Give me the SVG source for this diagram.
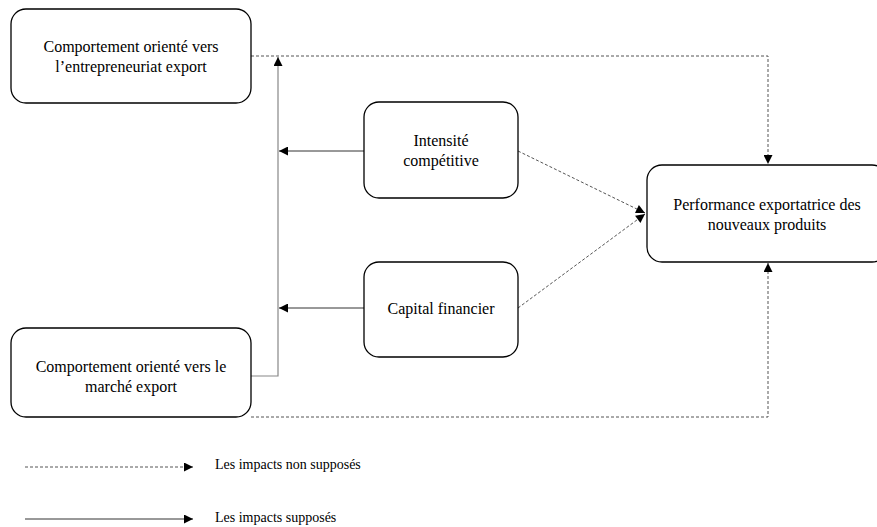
<svg xmlns="http://www.w3.org/2000/svg" width="877" height="527" viewBox="0 0 877 527">
<style>
.box{fill:#fff;stroke:#000;stroke-width:1.3}
.t{font-family:"Liberation Serif","Times New Roman",serif;font-size:16px;fill:#000;text-anchor:middle}
.lt{font-family:"Liberation Serif","Times New Roman",serif;font-size:14px;fill:#000}
.dot{fill:none;stroke:#555;stroke-width:1;stroke-dasharray:3 2}
.sol{fill:none;stroke:#333;stroke-width:1}
.gray{fill:none;stroke:#888;stroke-width:1.2}
</style>
<defs>
<marker id="ah" viewBox="0 0 10 10" refX="10" refY="5" markerWidth="10" markerHeight="9" markerUnits="userSpaceOnUse" orient="auto">
<path d="M0,0 L10,5 L0,10 z" fill="#000"/>
</marker>
</defs>
<g id="connectors">
<path class="dot" d="M251,56 H768 V164" marker-end="url(#ah)"/>
<path class="dot" d="M251,417 H768 V263" marker-end="url(#ah)"/>
<path class="gray" d="M251,376 H278 V57" marker-end="url(#ah)"/>
<path class="sol" d="M364,151 H279" marker-end="url(#ah)"/>
<path class="sol" d="M364,308 H279" marker-end="url(#ah)"/>
<path class="dot" d="M518,151 L645,213" marker-end="url(#ah)"/>
<path class="dot" d="M518,308 L645,214" marker-end="url(#ah)"/>
</g>
<g id="node-entrepreneuriat">
<rect class="box" x="11" y="9" width="240" height="94" rx="15"/>
<text class="t" x="131" y="52">Comportement orienté vers</text>
<text class="t" x="131" y="72">l’entrepreneuriat export</text>
</g>
<g id="node-marche">
<rect class="box" x="11" y="328" width="240" height="89" rx="15"/>
<text class="t" x="131" y="372">Comportement orienté vers le</text>
<text class="t" x="131" y="392">marché export</text>
</g>
<g id="node-intensite">
<rect class="box" x="364" y="102" width="154" height="96" rx="15"/>
<text class="t" x="441" y="146">Intensité</text>
<text class="t" x="441" y="166">compétitive</text>
</g>
<g id="node-capital">
<rect class="box" x="364" y="262" width="154" height="95" rx="15"/>
<text class="t" x="441" y="314">Capital financier</text>
</g>
<g id="node-performance">
<rect class="box" x="647" y="165" width="240" height="97" rx="15"/>
<text class="t" x="767" y="210">Performance exportatrice des</text>
<text class="t" x="767" y="230">nouveaux produits</text>
</g>
<g id="legend">
<path class="dot" d="M25,467 H193" marker-end="url(#ah)"/>
<text class="lt" x="215" y="469">Les impacts non supposés</text>
<path class="sol" d="M25,519 H193" marker-end="url(#ah)"/>
<text class="lt" x="215" y="522">Les impacts supposés</text>
</g>
</svg>
